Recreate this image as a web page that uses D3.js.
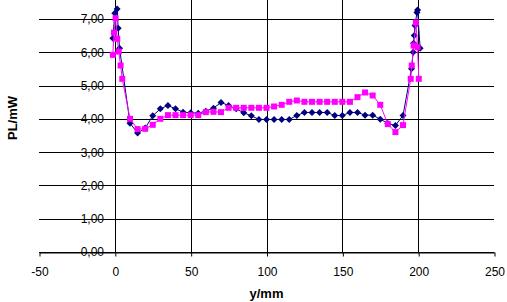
<!DOCTYPE html>
<html>
<head>
<meta charset="utf-8">
<script src="https://cdn.jsdelivr.net/npm/d3@7"></script>
<style>
  html, body { margin: 0; padding: 0; background: #fff; }
  svg { display: block; font-family: "Liberation Sans", Arial, sans-serif; }
</style>
</head>
<body>
<svg id="chart"></svg>
<script>
// series 1 (navy diamonds)
const blueX = [-1.3, 0, 1.5, 2.2, 3.1, 10, 15, 20, 25, 30, 35, 40, 45, 50, 55, 60, 65, 70, 75, 80,
  85, 90, 95, 100, 105, 110, 115, 120, 125, 130, 135, 140, 145, 150, 155, 160, 165, 170, 175, 180,
  185, 190, 195.6, 196.7, 197, 197.4, 197.9, 199.2, 199.6, 201.3];
const blueY = [6.42, 7.17, 7.3, 6.72, 6.12, 3.87, 3.57, 3.72, 4.09, 4.3, 4.4, 4.3, 4.2, 4.18, 4.17, 4.23, 4.32, 4.49, 4.4, 4.3,
  4.18, 4.09, 3.98, 3.98, 3.98, 3.98, 3.98, 4.1, 4.19, 4.19, 4.19, 4.19, 4.1, 4.1, 4.19, 4.19, 4.11, 4.11, 3.99, 3.86,
  3.8, 4.1, 5.5, 6.0, 6.27, 6.5, 6.8, 7.19, 7.27, 6.12];

// series 2 (magenta squares)
const pinkX = [-1.3, -0.6, 0.5, 1.6, 2.6, 3.8, 4.9, 10, 15, 20, 25, 30, 35, 40, 45, 50, 55, 60, 65, 70,
  75, 80, 85, 90, 95, 100, 105, 110, 115, 120, 125, 130, 135, 140, 145, 150, 155, 160, 165, 170,
  175, 180, 185, 190, 195.1, 195.8, 197, 198.5, 199.6, 200.4];
const pinkY = [5.92, 6.59, 7.02, 6.4, 6.02, 5.6, 5.2, 4.0, 3.69, 3.7, 3.82, 4.0, 4.11, 4.11, 4.11, 4.11, 4.11, 4.2, 4.21, 4.2,
  4.33, 4.33, 4.33, 4.33, 4.33, 4.33, 4.37, 4.42, 4.51, 4.55, 4.51, 4.51, 4.51, 4.51, 4.51, 4.51, 4.51, 4.65, 4.79, 4.7,
  4.42, 3.84, 3.6, 3.81, 5.2, 5.6, 6.2, 6.89, 6.15, 5.2];

const xTicks = [-50, 0, 50, 100, 150, 200, 250];
const yTicks = [0, 1, 2, 3, 4, 5, 6, 7];

const width = 507, height = 302;
const svg = d3.select("#chart").attr("width", width).attr("height", height);

const x = d3.scaleLinear().domain([-50, 250]).range([39, 494]);
const y = d3.scaleLinear().domain([0, 8]).range([252, -14.4]);
const px = v => Math.round(v) + 0.5;

const grid = svg.append("g");

// horizontal gridlines
grid.selectAll("line.h")
  .data(yTicks)
  .enter()
  .append("line")
  .attr("x1", x(-50)).attr("x2", x(250))
  .attr("y1", d => px(y(d))).attr("y2", d => px(y(d)))
  .attr("stroke", "#000").attr("stroke-width", 1);

// vertical gridlines (including the value axis at 0)
grid.selectAll("line.v")
  .data([0, 50, 100, 150, 200])
  .enter()
  .append("line")
  .attr("x1", d => px(x(d))).attr("x2", d => px(x(d)))
  .attr("y1", 0).attr("y2", px(y(0)))
  .attr("stroke", "#000").attr("stroke-width", 1);

// x axis with ticks below
const xAxis = d3.axisBottom(x).tickValues(xTicks).tickSize(4).tickSizeOuter(0).tickPadding(11)
  .tickFormat(d => String(d));
const gx = svg.append("g")
  .attr("transform", `translate(0.5, ${px(y(0))})`)
  .call(xAxis);
gx.select(".domain").attr("stroke", "#000");
gx.selectAll(".tick line").attr("stroke", "#000");
gx.selectAll(".tick text").attr("font-size", 12).attr("fill", "#000")
  .attr("font-family", "Liberation Sans, Arial, sans-serif");

// y tick labels, left of the value axis
svg.append("g").selectAll("text")
  .data(yTicks)
  .enter()
  .append("text")
  .attr("x", 104)
  .attr("y", d => y(d))
  .attr("dy", "0.37em")
  .attr("text-anchor", "end")
  .attr("font-size", 12)
  .attr("fill", "#000")
  .text(d => d.toFixed(2).replace(".", ","));

// axis titles
svg.append("text")
  .attr("x", 266.5).attr("y", 298)
  .attr("text-anchor", "middle")
  .attr("font-size", 13).attr("font-weight", "bold")
  .text("y/mm");

svg.append("text")
  .attr("transform", "translate(17,118) rotate(-90)")
  .attr("text-anchor", "middle")
  .attr("font-size", 13).attr("font-weight", "bold")
  .text("PL/mW");

const line = d3.line().x(d => x(d[0])).y(d => y(d[1]));
const blue = d3.zip(blueX, blueY);
const pink = d3.zip(pinkX, pinkY);

// navy series
svg.append("path")
  .datum(blue)
  .attr("d", line)
  .attr("fill", "none")
  .attr("stroke", "#000080")
  .attr("stroke-width", 1);

svg.append("g").selectAll("path")
  .data(blue)
  .enter()
  .append("path")
  .attr("d", "M0,-3.5L3.5,0L0,3.5L-3.5,0Z")
  .attr("transform", d => `translate(${x(d[0])},${y(d[1])})`)
  .attr("fill", "#000080");

// magenta series
svg.append("path")
  .datum(pink)
  .attr("d", line)
  .attr("fill", "none")
  .attr("stroke", "#FF00FF")
  .attr("stroke-width", 1);

svg.append("g").selectAll("rect")
  .data(pink)
  .enter()
  .append("rect")
  .attr("x", d => x(d[0]) - 3)
  .attr("y", d => y(d[1]) - 3)
  .attr("width", 6)
  .attr("height", 6)
  .attr("fill", "#FF00FF");
</script>
</body>
</html>
